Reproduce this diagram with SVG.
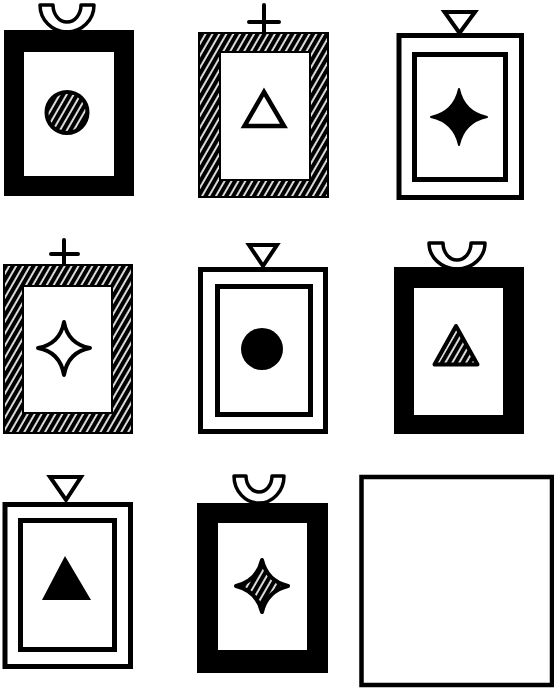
<svg xmlns="http://www.w3.org/2000/svg" width="554" height="688" viewBox="0 0 554 688">
<defs>
<pattern id="hatch" patternUnits="userSpaceOnUse" width="6" height="6" patternTransform="rotate(30)">
<rect width="6" height="6" fill="#000"/>
<rect x="2.2" width="1.7" height="6" fill="#fff"/>
</pattern>
<pattern id="hatchS" patternUnits="userSpaceOnUse" width="6" height="6" patternTransform="rotate(30)">
<rect width="6" height="6" fill="#000"/>
<rect x="2.2" width="1.7" height="6" fill="#fff"/>
</pattern>
</defs>
<style>
.blk{fill:#000}
.wht{fill:#fff}
.ln{fill:none;stroke:#000;stroke-width:5}
.ln4{fill:none;stroke:#000;stroke-width:4.5}
.hook{fill:#fff;stroke:#000;stroke-width:3.5;stroke-linejoin:round}
.tri{fill:#fff;stroke:#000;stroke-width:4;stroke-linejoin:miter}
.cross{fill:none;stroke:#000;stroke-width:4;stroke-linecap:round}
.hfill{fill:url(#hatch);stroke:#000;stroke-width:2}
.hshape{fill:url(#hatchS);stroke:#000;stroke-width:4;stroke-linejoin:round}
</style>
<rect width="554" height="688" fill="#fff"/>

<g id="p1">
<path class="hook" d="M40,5 L53,5 A14 17 0 0 0 81,5 L94,5 A27 27 0 0 1 40,5 Z"/>
<rect class="blk" x="4" y="30" width="130" height="166"/>
<rect class="wht" x="24" y="52" width="90" height="124"/>
<circle class="hshape" cx="67" cy="112.5" r="20.5"/>
</g>

<g id="p2">
<path class="cross" d="M264,5 V32 M249,22 H279"/>
<rect class="hfill" x="199" y="33" width="129" height="164"/>
<rect x="220" y="52" width="90" height="128" fill="#fff" stroke="#000" stroke-width="2"/>
<polygon class="tri" points="264,92 244.5,126 284,126" style="stroke-width:4.5"/>
</g>

<g id="p3">
<polygon class="tri" points="444.5,12 475,12 459.5,33"/>
<rect class="ln" x="399" y="35.5" width="122.5" height="162"/>
<rect class="ln" x="414.5" y="54.5" width="91" height="125"/>
<path class="blk" stroke="#000" stroke-width="2" stroke-linejoin="round" d="M459,89 Q464,112 487,117 Q464,122 459,145 Q454,122 431,117 Q454,112 459,89 Z"/>
</g>

<g id="p4">
<path class="cross" d="M64,240 V264 M51,254 H78"/>
<rect class="hfill" x="4" y="265" width="128" height="168"/>
<rect x="23" y="286" width="89" height="127" fill="#fff" stroke="#000" stroke-width="2"/>
<path d="M64,322 Q68,344 90,348 Q68,352 64,375 Q60,352 38,348 Q60,344 64,322 Z" fill="#fff" stroke="#000" stroke-width="4" stroke-linejoin="round"/>
</g>

<g id="p5">
<polygon class="tri" points="249,245 277,245 263,266"/>
<rect class="ln" x="200.5" y="269.5" width="125" height="162"/>
<rect class="ln" x="217.5" y="286.5" width="93" height="128"/>
<circle class="blk" cx="262" cy="349" r="21"/>
</g>

<g id="p6">
<path class="hook" d="M429,243 L443,243 A14 17 0 0 0 471,243 L485,243 A28 26 0 0 1 429,243 Z"/>
<rect class="blk" x="394" y="267" width="130" height="167"/>
<rect class="wht" x="414" y="288" width="89" height="127"/>
<polygon class="hshape" points="456,326 434.5,364.5 477.5,364.5"/>
</g>

<g id="p7">
<polygon class="tri" points="50,477 81,477 66,500"/>
<rect class="ln" x="5" y="504.5" width="125.5" height="162"/>
<rect class="ln" x="20.5" y="520.5" width="94" height="129"/>
<polygon class="blk" points="65,556 42,600 91,600"/>
</g>

<g id="p8">
<path class="hook" d="M234,476 L246,476 A13 16 0 0 0 272,476 L284,476 A25 27 0 0 1 234,476 Z"/>
<rect class="blk" x="197" y="503" width="131" height="170"/>
<rect class="wht" x="218" y="523" width="89" height="127"/>
<path class="hshape" d="M262,560 Q267,581 288,586 Q267,591 262,612 Q257,591 236,586 Q257,581 262,560 Z"/>
</g>

<g id="p9">
<rect class="ln4" x="361.5" y="477" width="190.5" height="208"/>
</g>
</svg>
